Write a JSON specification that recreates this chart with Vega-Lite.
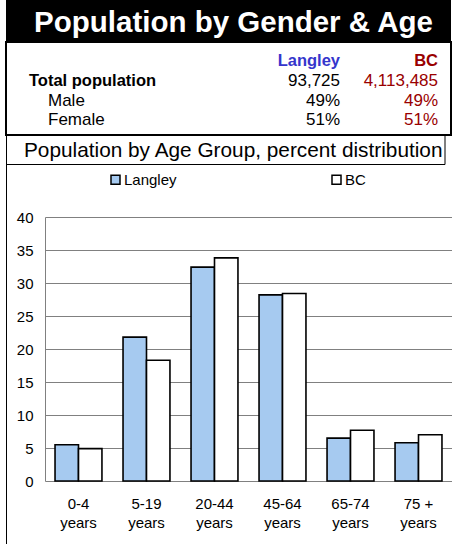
{
  "$schema": "https://vega.github.io/schema/vega-lite/v6.json",
  "padding": {"left": 5, "top": 0, "right": 0, "bottom": 0},
  "background": "white",
  "bounds": "flush",
  "spacing": 0,
  "config": {
    "font": "Liberation Sans",
    "view": {"stroke": null}
  },
  "datasets": {
    "regions": [{"region": "Langley"}, {"region": "BC"}],
    "summary": [
      {"row": "Total population", "region": "Langley", "value": "93,725"},
      {"row": "Total population", "region": "BC", "value": "4,113,485"},
      {"row": "Male", "region": "Langley", "value": "49%"},
      {"row": "Male", "region": "BC", "value": "49%"},
      {"row": "Female", "region": "Langley", "value": "51%"},
      {"row": "Female", "region": "BC", "value": "51%"}
    ],
    "rows": [
      {"row": "Total population", "level": "total"},
      {"row": "Male", "level": "sub"},
      {"row": "Female", "level": "sub"}
    ],
    "ages": [
      {"age": "0-4 years", "region": "Langley", "pct": 5.5},
      {"age": "0-4 years", "region": "BC", "pct": 4.9},
      {"age": "5-19 years", "region": "Langley", "pct": 21.8},
      {"age": "5-19 years", "region": "BC", "pct": 18.3},
      {"age": "20-44 years", "region": "Langley", "pct": 32.4},
      {"age": "20-44 years", "region": "BC", "pct": 33.8},
      {"age": "45-64 years", "region": "Langley", "pct": 28.2},
      {"age": "45-64 years", "region": "BC", "pct": 28.4},
      {"age": "65-74 years", "region": "Langley", "pct": 6.5},
      {"age": "65-74 years", "region": "BC", "pct": 7.7},
      {"age": "75 + years", "region": "Langley", "pct": 5.8},
      {"age": "75 + years", "region": "BC", "pct": 7.0}
    ]
  },
  "vconcat": [
    {
      "width": 445,
      "height": 42,
      "view": {"fill": "black"},
      "data": {"values": [{"title": "Population by Gender & Age"}]},
      "mark": {"type": "text", "color": "white", "fontSize": 29.5, "fontWeight": "bold", "baseline": "middle", "dy": 2, "dx": 5},
      "encoding": {"text": {"field": "title"}}
    },
    {
      "width": 445,
      "height": 93,
      "view": {"stroke": "black", "strokeWidth": 2},
      "layer": [
        {
          "data": {"name": "regions"},
          "mark": {"type": "text", "fontSize": 16.5, "fontWeight": "bold", "align": "right", "baseline": "alphabetic"},
          "encoding": {
            "x": {"field": "region", "type": "nominal", "scale": {"type": "point", "domain": ["Langley", "BC"], "padding": 0, "range": [334, 432]}, "axis": null},
            "y": {"datum": "header", "type": "nominal", "scale": {"type": "point", "domain": ["header", "Total population", "Male", "Female"], "padding": 0.8485, "align": 0.714}, "axis": null},
            "text": {"field": "region"},
            "color": {"field": "region", "type": "nominal", "scale": {"domain": ["Langley", "BC"], "range": ["#3535cc", "#990000"]}, "legend": null}
          }
        },
        {
          "data": {"name": "summary"},
          "mark": {"type": "text", "fontSize": 17, "align": "right", "baseline": "alphabetic"},
          "encoding": {
            "x": {"field": "region", "type": "nominal", "scale": {"type": "point", "domain": ["Langley", "BC"], "padding": 0, "range": [334, 432]}, "axis": null},
            "y": {"field": "row", "type": "nominal", "scale": {"type": "point", "domain": ["header", "Total population", "Male", "Female"], "padding": 0.8485, "align": 0.714}, "axis": null},
            "text": {"field": "value"},
            "color": {"field": "region", "type": "nominal", "scale": {"domain": ["Langley", "BC"], "range": ["#000000", "#990000"]}, "legend": null}
          }
        },
        {
          "data": {"name": "rows"},
          "transform": [{"filter": "datum.level == 'total'"}],
          "mark": {"type": "text", "fontSize": 16.5, "fontWeight": "bold", "align": "left", "baseline": "alphabetic", "color": "black"},
          "encoding": {
            "x": {"field": "level", "type": "nominal", "scale": {"type": "point", "domain": ["total", "sub"], "padding": 0, "range": [23, 42]}, "axis": null},
            "y": {"field": "row", "type": "nominal", "scale": {"type": "point", "domain": ["header", "Total population", "Male", "Female"], "padding": 0.8485, "align": 0.714}, "axis": null},
            "text": {"field": "row"}
          }
        },
        {
          "data": {"name": "rows"},
          "transform": [{"filter": "datum.level == 'sub'"}],
          "mark": {"type": "text", "fontSize": 17, "align": "left", "baseline": "alphabetic", "color": "black"},
          "encoding": {
            "x": {"field": "level", "type": "nominal", "scale": {"type": "point", "domain": ["total", "sub"], "padding": 0, "range": [23, 42]}, "axis": null},
            "y": {"field": "row", "type": "nominal", "scale": {"type": "point", "domain": ["header", "Total population", "Male", "Female"], "padding": 0.8485, "align": 0.714}, "axis": null},
            "text": {"field": "row"}
          }
        }
      ],
      "resolve": {"scale": {"x": "independent", "color": "independent"}}
    },
    {
      "width": 438.5,
      "height": 29,
      "view": {"stroke": "black", "strokeWidth": 1},
      "data": {"values": [{"subtitle": "Population by Age Group, percent distribution"}]},
      "mark": {"type": "text", "fontSize": 20.8, "baseline": "middle", "color": "black", "dy": 1, "dx": 8},
      "encoding": {"text": {"field": "subtitle"}}
    },
    {
      "bounds": "flush",
      "spacing": 38,
      "hconcat": [
        {
          "width": 1,
          "height": 381,
          "view": {"fill": "black"},
          "data": {"values": []},
          "mark": "rect"
        },
        {
          "bounds": "flush",
          "spacing": 0,
          "vconcat": [
            {
              "width": 407,
              "height": 53,
              "data": {"values": []},
              "mark": "rect"
            },
            {
              "width": 407,
              "height": 264,
              "data": {"name": "ages"},
              "mark": {"type": "bar", "stroke": "black", "strokeWidth": 1.6},
              "encoding": {
                "x": {
                  "field": "age", "type": "nominal", "sort": null,
                  "scale": {"paddingInner": 0.31, "paddingOuter": 0.1475},
                  "axis": {"title": null, "labelAngle": 0, "ticks": false, "domain": false, "labelFontSize": 15, "labelColor": "black", "labelPadding": 15, "labelLineHeight": 19, "labelExpr": "[replace(datum.label, ' years', ''), 'years']"}
                },
                "xOffset": {"field": "region", "type": "nominal", "sort": ["Langley", "BC"]},
                "y": {
                  "field": "pct", "type": "quantitative",
                  "scale": {"domain": [0, 40], "nice": false},
                  "axis": {"title": null, "values": [0, 5, 10, 15, 20, 25, 30, 35, 40], "grid": true, "gridColor": "#808080", "gridWidth": 1, "domain": true, "domainColor": "#808080", "ticks": false, "labelFontSize": 15, "labelColor": "black", "labelPadding": 12}
                },
                "fill": {
                  "field": "region", "type": "nominal", "sort": ["Langley", "BC"],
                  "scale": {"domain": ["Langley", "BC"], "range": ["#a6caf0", "#ffffff"]},
                  "legend": {"orient": "none", "legendX": 102, "legendY": 172, "direction": "horizontal", "title": null, "labelFontSize": 15, "labelColor": "black", "symbolType": "square", "symbolSize": 81, "symbolStrokeColor": "black", "symbolStrokeWidth": 1.5, "columnPadding": 152, "labelOffset": 1}
                }
              }
            }
          ]
        }
      ]
    }
  ]
}
